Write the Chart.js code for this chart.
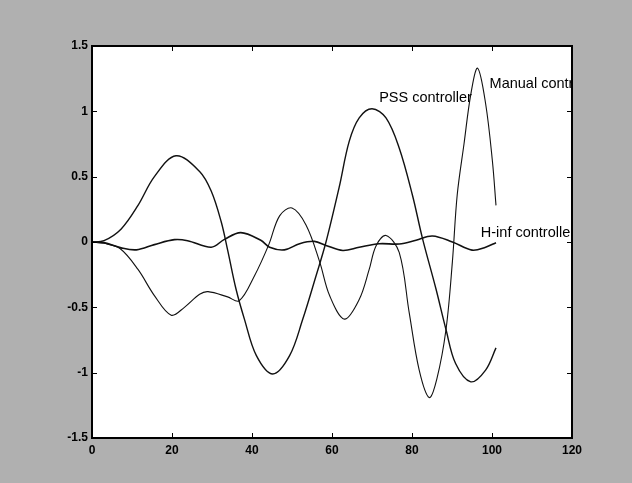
<!DOCTYPE html>
<html>
<head>
<meta charset="utf-8">
<script src="https://cdn.jsdelivr.net/npm/chart.js@4/dist/chart.umd.min.js"></script>
<style>
  html, body { margin: 0; padding: 0; background: #b0b0b0; }
  canvas { display: block; }
</style>
</head>
<body>
<canvas id="chart" width="632" height="483"></canvas>
<script>
// values
const manualT = [0, 3, 7, 11.5, 15.6, 19.8, 23.1, 26.9, 29, 33.9, 36.8, 40.6, 44.2, 46.9, 50, 53.5, 56.9, 59.4, 63.1, 66.8, 69.3, 71, 73.5, 76.8, 79.3, 81.8, 84.3, 86.2, 88.5, 90.1, 91.3, 93, 94.7, 96.4, 98.4, 100.1, 101];
const manualV = [0, -0.01, -0.05, -0.21, -0.41, -0.56, -0.5, -0.4, -0.38, -0.42, -0.45, -0.26, -0.02, 0.2, 0.26, 0.13, -0.15, -0.41, -0.59, -0.44, -0.21, -0.03, 0.05, -0.08, -0.54, -0.98, -1.19, -1.05, -0.67, -0.15, 0.36, 0.75, 1.13, 1.33, 1.06, 0.62, 0.28];

const pssT = [0, 3, 7.3, 11.5, 15.6, 21, 26.9, 29.8, 32.3, 33.9, 36, 38.1, 41.1, 45.2, 49.4, 52.7, 56, 58.5, 61.8, 64.3, 66.8, 70, 73.5, 76.8, 80.1, 82.6, 86, 88.5, 90.9, 94.7, 98.4, 101];
const pssV = [0, 0.01, 0.1, 0.28, 0.5, 0.66, 0.54, 0.39, 0.155, -0.06, -0.36, -0.59, -0.87, -1.01, -0.87, -0.59, -0.26, 0, 0.42, 0.77, 0.95, 1.02, 0.95, 0.72, 0.36, 0.03, -0.36, -0.67, -0.93, -1.07, -0.98, -0.81];

const hinfT = [0, 3, 7.3, 11.1, 15.6, 20.6, 23.9, 29.8, 33.1, 37.2, 42.2, 44.4, 48.1, 51.9, 55.6, 58.5, 62.7, 66.8, 71.8, 76.8, 81, 85.1, 90.1, 95, 98.4, 101];
const hinfV = [0, -0.005, -0.045, -0.06, -0.02, 0.018, 0.01, -0.04, 0.02, 0.072, 0.013, -0.04, -0.06, -0.013, 0.005, -0.026, -0.065, -0.04, -0.013, -0.015, 0.013, 0.046, 0, -0.062, -0.04, -0.005];

const xTicks = [0, 20, 40, 60, 80, 100, 120];
const xTickLabels = ['0', '20', '40', '60', '80', '100', '120'];
const yTicks = [-1.5, -1, -0.5, 0, 0.5, 1, 1.5];
const yTickLabels = ['-1.5', '-1', '-0.5', '0', '0.5', '1', '1.5'];

// curve labels as placed on the figure (data coordinates)
const labelText = ['PSS controller', 'Manual controller', 'H-inf controller'];
const labelX = [71.8, 99.4, 97.2];
const labelY = [1.1, 1.21, 0.066];

const zip = (t, v) => t.map((x, i) => ({ x, y: v[i] }));

// grey scan background + white axes box
const paper = {
  id: 'paper',
  beforeDraw(chart) {
    const { ctx, chartArea: a } = chart;
    ctx.save();
    ctx.fillStyle = '#b0b0b0';
    ctx.fillRect(0, 0, chart.width, chart.height);
    ctx.fillStyle = '#ffffff';
    ctx.fillRect(a.left, a.top, a.right - a.left, a.bottom - a.top);
    ctx.restore();
  }
};

// matlab style box with inward ticks, and the text labels
const frame = {
  id: 'frame',
  afterDatasetsDraw(chart) {
    const { ctx, chartArea: a, scales } = chart;
    ctx.save();
    ctx.beginPath();
    ctx.rect(a.left, a.top, a.right - a.left, a.bottom - a.top);
    ctx.clip();
    ctx.fillStyle = '#000';
    ctx.font = '14.5px "Liberation Sans", Arial, sans-serif';
    ctx.textAlign = 'left';
    ctx.textBaseline = 'middle';
    labelText.forEach((txt, i) => {
      ctx.fillText(txt, scales.x.getPixelForValue(labelX[i]), scales.y.getPixelForValue(labelY[i]));
    });
    ctx.restore();
  },
  afterDraw(chart) {
    const { ctx, chartArea: a, scales } = chart;
    const len = 5;
    ctx.save();
    ctx.strokeStyle = '#000';
    ctx.lineWidth = 1;
    ctx.beginPath();
    xTicks.forEach(v => {
      const px = Math.round(scales.x.getPixelForValue(v)) + 0.5;
      ctx.moveTo(px, a.bottom); ctx.lineTo(px, a.bottom - len);
      ctx.moveTo(px, a.top); ctx.lineTo(px, a.top + len);
    });
    yTicks.forEach(v => {
      const py = Math.round(scales.y.getPixelForValue(v)) + 0.5;
      ctx.moveTo(a.left, py); ctx.lineTo(a.left + len, py);
      ctx.moveTo(a.right, py); ctx.lineTo(a.right - len, py);
    });
    ctx.stroke();
    ctx.lineWidth = 2;
    ctx.strokeRect(a.left, a.top, a.right - a.left, a.bottom - a.top);
    ctx.restore();
  }
};

const lineStyle = {
  borderColor: '#111',
  pointRadius: 0,
  fill: false,
  tension: 0.35
};

new Chart(document.getElementById('chart'), {
  type: 'line',
  data: {
    datasets: [
      { label: 'Manual controller', data: zip(manualT, manualV), borderWidth: 1.1, ...lineStyle },
      { label: 'PSS controller', data: zip(pssT, pssV), borderWidth: 1.4, ...lineStyle },
      { label: 'H-inf controller', data: zip(hinfT, hinfV), borderWidth: 1.6, ...lineStyle }
    ]
  },
  options: {
    responsive: false,
    animation: false,
    events: [],
    layout: { padding: { top: 46, right: 60, bottom: 0, left: 0 } },
    plugins: { legend: { display: false }, tooltip: { enabled: false } },
    scales: {
      x: {
        type: 'linear',
        min: 0,
        max: 120,
        afterBuildTicks: s => { s.ticks = xTicks.map(v => ({ value: v })); },
        afterFit: s => { s.height = 45; },
        grid: { display: false, drawTicks: false },
        border: { display: false },
        ticks: {
          color: '#000',
          padding: 5,
          maxRotation: 0,
          font: { family: '"Liberation Sans", Arial, sans-serif', size: 12, weight: 'bold' },
          callback: (v, i) => xTickLabels[i]
        }
      },
      y: {
        min: -1.5,
        max: 1.5,
        afterBuildTicks: s => { s.ticks = yTicks.map(v => ({ value: v })); },
        afterFit: s => { s.width = 92; },
        grid: { display: false, drawTicks: false },
        border: { display: false },
        ticks: {
          color: '#000',
          padding: 4,
          font: { family: '"Liberation Sans", Arial, sans-serif', size: 12, weight: 'bold' },
          callback: (v, i) => yTickLabels[i]
        }
      }
    }
  },
  plugins: [paper, frame]
});
</script>
</body>
</html>
